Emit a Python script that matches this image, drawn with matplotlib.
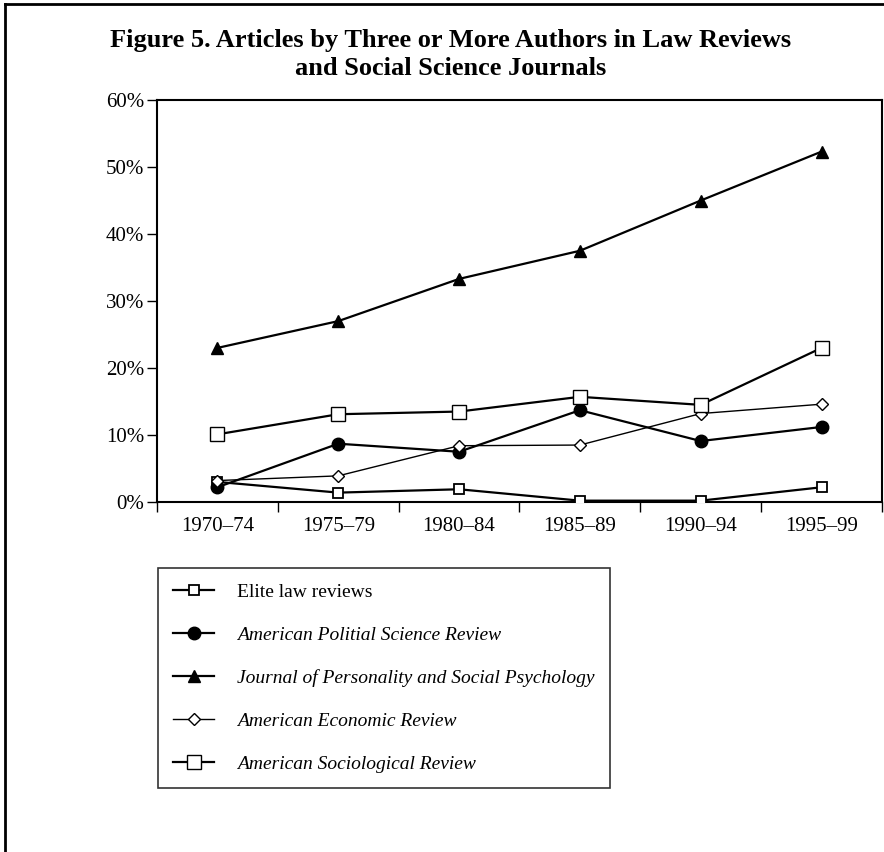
import matplotlib
matplotlib.use('Agg')
import matplotlib.pyplot as plt
from matplotlib.lines import Line2D

# ---- data (percent of articles) ----
periods = ['1970–74', '1975–79', '1980–84', '1985–89', '1990–94', '1995–99']
elite_law = [3.0, 1.4, 1.9, 0.2, 0.2, 2.2]
apsr = [2.2, 8.7, 7.5, 13.7, 9.1, 11.2]
jpsp = [23.0, 27.0, 33.3, 37.5, 45.0, 52.3]
aer = [3.2, 3.9, 8.4, 8.5, 13.2, 14.6]
asr = [10.1, 13.1, 13.5, 15.7, 14.5, 23.0]
y_ticks = [0, 10, 20, 30, 40, 50, 60]

plt.rcParams['font.family'] = ['Liberation Serif', 'DejaVu Serif']

fig = plt.figure(figsize=(8.84, 8.52), dpi=100)
ax = fig.add_axes([0.1776, 0.4108, 0.8201, 0.4718])

x = list(range(len(periods)))
lw = 1.6
h1, = ax.plot(x, elite_law, '-', color='black', lw=lw, marker='s', ms=7,
              mfc='white', mec='black', mew=1.3, label='Elite law reviews', zorder=3)
h2, = ax.plot(x, apsr, '-', color='black', lw=lw, marker='o', ms=9,
              mfc='black', mec='black', label='American Politial Science Review', zorder=4)
h3, = ax.plot(x, jpsp, '-', color='black', lw=lw, marker='^', ms=9,
              mfc='black', mec='black', label='Journal of Personality and Social Psychology', zorder=4)
h4, = ax.plot(x, aer, '-', color='black', lw=1.0, marker='D', ms=6.5,
              mfc='white', mec='black', mew=1.0, label='American Economic Review', zorder=5)
h5, = ax.plot(x, asr, '-', color='black', lw=lw, marker='s', ms=9.5,
              mfc='white', mec='black', mew=1.0, label='American Sociological Review', zorder=5)

ax.set_xlim(-0.5, len(periods) - 0.5)
ax.set_ylim(0, 60)
ax.set_yticks(y_ticks)
ax.set_yticklabels([f'{v}%' for v in y_ticks])

# bin-edge ticks, labels centred in each bin
ax.set_xticks([i - 0.5 for i in range(len(periods) + 1)])
ax.set_xticklabels([])
ax.set_xticks(x, minor=True)
ax.set_xticklabels(periods, minor=True)
ax.tick_params(axis='x', which='major', direction='out', length=7.5, width=1.0)
ax.tick_params(axis='x', which='minor', length=0, pad=11, labelsize=15)
ax.tick_params(axis='y', direction='out', length=7, width=1.0, pad=2, labelsize=15)

for s in ax.spines.values():
    s.set_linewidth(1.5)

# legend box under the plot
leg = fig.legend(handles=[h1, h2, h3, h4, h5], loc='upper left',
                 bbox_to_anchor=(158 / 884, 1 - 568 / 852),
                 frameon=True, fancybox=False, edgecolor='black',
                 prop={'family': 'Liberation Serif', 'size': 14},
                 handlelength=2.1, handletextpad=1.2, labelspacing=1.3,
                 borderpad=0.78, borderaxespad=0)
leg.get_frame().set_linewidth(1.2)
for i, t in enumerate(leg.get_texts()):
    if i > 0:
        t.set_style('italic')

fig.text(0.51, 1 - 75 / 852, 'Figure 5. Articles by Three or More Authors in Law Reviews\nand Social Science Journals',
         ha='center', va='baseline', fontsize=19, fontweight='bold', linespacing=1.3)

# outer frame (top and left)
fig.add_artist(Line2D([5 / 884, 1], [1 - 4 / 852, 1 - 4 / 852], transform=fig.transFigure,
                      color='black', lw=2))
fig.add_artist(Line2D([5 / 884, 5 / 884], [0, 1 - 4 / 852], transform=fig.transFigure,
                      color='black', lw=2))

fig.savefig('out.png', dpi=100)
